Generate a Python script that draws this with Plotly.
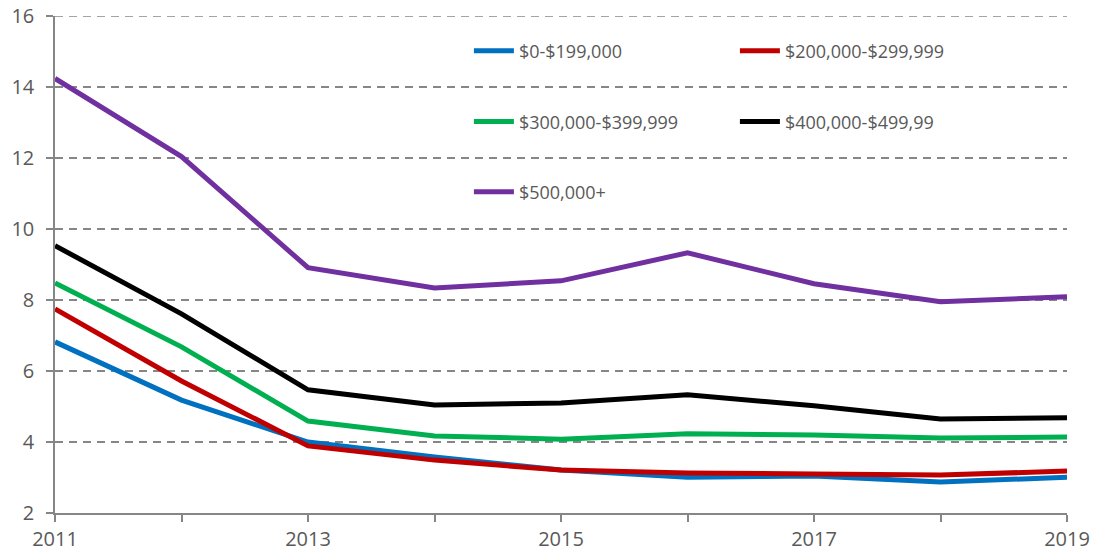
import plotly.graph_objects as go

years = [2011, 2012, 2013, 2014, 2015, 2016, 2017, 2018, 2019]
s_0_199 = [6.82, 5.18, 4.00, 3.58, 3.21, 3.01, 3.04, 2.87, 3.01]
s_200_299 = [7.75, 5.72, 3.89, 3.49, 3.21, 3.13, 3.10, 3.07, 3.18]
s_300_399 = [8.48, 6.68, 4.59, 4.17, 4.08, 4.23, 4.20, 4.11, 4.14]
s_400_499 = [9.53, 7.61, 5.47, 5.04, 5.10, 5.33, 5.02, 4.65, 4.68]
s_500_plus = [14.24, 12.04, 8.91, 8.34, 8.54, 9.33, 8.46, 7.95, 8.09]

names = ["$0-$199,000", "$200,000-$299,999", "$300,000-$399,999", "$400,000-$499,99", "$500,000+"]
colors = ["#0070C0", "#C00000", "#00B050", "#000000", "#7030A0"]
series = [s_0_199, s_200_299, s_300_399, s_400_499, s_500_plus]
legend_ids = ["legend", "legend", "legend2", "legend2", "legend3"]

xtick_vals = years
xtick_text = [str(y) if y % 2 == 1 else "" for y in years]
ytick_vals = [2, 4, 6, 8, 10, 12, 14, 16]
y_range = [2, 16]

fig = go.Figure()
order = [4, 3, 2, 0, 1]
for i in order:
    fig.add_trace(go.Scatter(
        x=years, y=series[i], mode="lines", name=names[i],
        line=dict(color=colors[i], width=5),
        legend=legend_ids[i], legendrank=i,
    ))

grey = "#868686"
font = "Open Sans, Noto Sans, sans-serif"
leg_common = dict(orientation="h", xanchor="left", yanchor="middle",
                  x=0.409, entrywidth=211, entrywidthmode="pixels",
                  bgcolor="rgba(0,0,0,0)", font=dict(family=font, size=18, color="#595959"),
                  itemwidth=40, traceorder="normal")

# top gridline (plotly omits the grid line at the range end)
fig.add_shape(type="line", xref="paper", yref="y", x0=0, x1=1, y0=y_range[1], y1=y_range[1],
              line=dict(color=grey, width=1.5, dash="8px,6px"), layer="below")

fig.update_layout(
    width=1097, height=556,
    margin=dict(l=55, r=30, t=16, b=43, autoexpand=False),
    plot_bgcolor="white", paper_bgcolor="white",
    font=dict(family=font, size=20, color="#595959"),
    xaxis=dict(range=[2011, 2019], tickvals=xtick_vals, ticktext=xtick_text,
               showgrid=False, showline=True, linecolor=grey, linewidth=1.5,
               ticks="outside", ticklen=7, tickcolor=grey, tickwidth=1.5,
               zeroline=False, automargin=False, tickfont=dict(size=20, color="#595959")),
    yaxis=dict(range=y_range, tickvals=ytick_vals, showgrid=True, gridcolor=grey,
               griddash="8px,6px", gridwidth=1.5, showline=True, linecolor=grey, linewidth=1.5,
               ticks="outside", ticklen=7, tickcolor=grey, tickwidth=1.5, ticklabelstandoff=8,
               zeroline=False, automargin=False, tickfont=dict(size=20, color="#595959")),
    legend=dict(y=0.9296, **leg_common),
    legend2=dict(y=0.787, **leg_common),
    legend3=dict(y=0.646, **leg_common),
)

fig.write_html("out.html", config={"displayModeBar": False},
               post_script="document.body.style.margin='0';document.body.style.overflow='hidden';")
